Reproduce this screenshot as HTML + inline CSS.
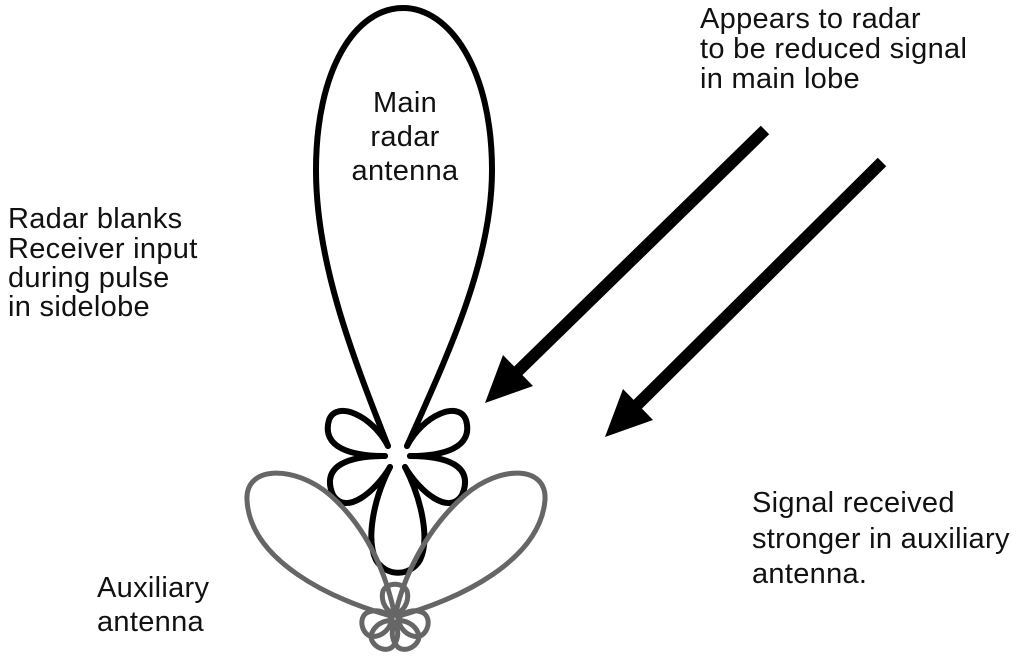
<!DOCTYPE html>
<html><head><style>
body{margin:0;background:#fff;}
svg{display:block}
text{font-family:"Liberation Sans",sans-serif;font-size:29px;letter-spacing:0.3px;fill:#111}
</style></head><body>
<svg width="1032" height="656" viewBox="0 0 1032 656">
<defs>
<path id="pg" d="M4,-2 C10,-12 20,-14 27,-12 C36,-8 36,8 27,12 C20,14 10,12 4,2 Z"/>
</defs>
<g fill="none" stroke="#000" stroke-width="6" stroke-linecap="round">
<path d="M388,446 C350,350 316,260 316,170 C316,70 355,8 403,8 C450,8 492,70 492,170 C492,260 450,350 407,446"/>
<path d="M388,446 C372,415 336,400 329,420 C321,448 352,456 385,456"/>
<path d="M385,456 C350,456 320,465 333,495 C346,516 375,492 390,467"/>
<path d="M390,467 C373,500 366,540 376,560 C386,577 410,577 420,560 C430,540 422,500 405,467"/>
<path d="M407,446 C423,415 459,400 466,420 C474,448 443,456 410,456"/>
<path d="M410,456 C445,456 475,465 462,495 C449,516 420,492 405,467"/>
</g>
<g fill="none" stroke="#666" stroke-width="5">
<path d="M395,617 C330,600 250,560 247,500 C245,465 295,465 330,495 C370,530 388,580 395,617"/>
<path d="M395,617 C460,600 540,560 545,500 C547,465 500,465 465,495 C425,530 402,580 395,617"/>
<use href="#pg" transform="translate(395,618) rotate(-90)"/>
<use href="#pg" transform="translate(395,618) rotate(-195)"/>
<use href="#pg" transform="translate(395,618) rotate(15)"/>
<use href="#pg" transform="translate(395,618) rotate(60)"/>
<use href="#pg" transform="translate(395,618) rotate(120)"/>
</g>
<g stroke="#000" stroke-width="12">
<line x1="765" y1="130" x2="515" y2="374"/>
<line x1="882" y1="162" x2="635" y2="407"/>
</g>
<polygon points="485,403 503,355 533,386" fill="#000"/>
<polygon points="605,437 623,389 653,420" fill="#000"/>
<text x="405" y="112" text-anchor="middle">Main</text>
<text x="405" y="146" text-anchor="middle">radar</text>
<text x="405" y="180" text-anchor="middle">antenna</text>
<text x="8" y="228">Radar blanks</text>
<text x="8" y="258">Receiver input</text>
<text x="8" y="287">during pulse</text>
<text x="8" y="316">in sidelobe</text>
<text x="700" y="28">Appears to radar</text>
<text x="700" y="58">to be reduced signal</text>
<text x="700" y="88">in main lobe</text>
<text x="752" y="512">Signal received</text>
<text x="752" y="548">stronger in auxiliary</text>
<text x="752" y="583">antenna.</text>
<text x="97" y="597">Auxiliary</text>
<text x="97" y="631">antenna</text>
</svg>
</body></html>
